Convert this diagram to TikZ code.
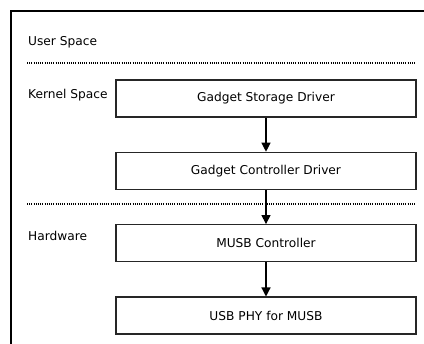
\documentclass[tikz,border=0pt]{standalone}
\usepackage{fontspec}
\setmainfont{DejaVu Sans}
\usetikzlibrary{%
        arrows.meta,%
        positioning%
    }

\begin{document}
\begin{tikzpicture}[x=1pt,y=-1pt,
    layer/.style={draw=black!85,line width=1.4pt,minimum width=300pt,
      minimum height=37pt,inner sep=0pt,font=\fontsize{12.2}{14}\selectfont},
    space/.style={anchor=west,inner sep=0pt,font=\fontsize{12.2}{14}\selectfont},
    flow/.style={line width=1.2pt,-{Triangle[width=9pt,length=9pt]}},
    sep/.style={line width=1.2pt,dash pattern=on 1pt off 1.2pt}]
      \useasboundingbox (0,0) rectangle (424,344);
      \draw[line width=1.4pt] (11,344) -- (11,11) -- (424,11);% frame

      \node[layer] (storage) at (266,98.5) {Gadget Storage Driver};
      \node[layer,below=34pt of storage] (udc) {Gadget Controller Driver};
      \node[layer,below=34pt of udc] (musb) {MUSB Controller};
      \node[layer,below=34pt of musb] (phy) {USB PHY for MUSB};

      \draw[flow] (storage) -- (udc);
      \draw[flow] (udc) -- (musb);
      \draw[flow] (musb) -- (phy);

      \draw[sep] (27,63) -- (415,63);% user / kernel
      \draw[sep] (27,204) -- (415,204);% kernel / hardware

      %labels
      \node[space] (user) at (28,42) {User Space};
      \node[space] (kernel) at (28,95) {Kernel Space};
      \node[space] (hw) at (28,236) {Hardware};
\end{tikzpicture}
\end{document}
